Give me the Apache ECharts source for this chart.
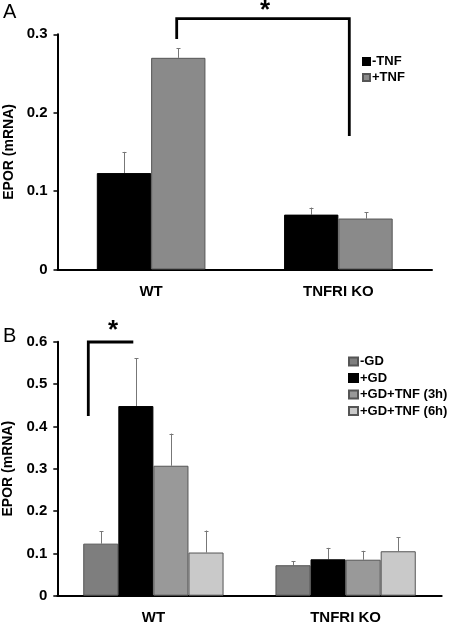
<!DOCTYPE html>
<html><head><meta charset="utf-8">
<script src="https://cdn.jsdelivr.net/npm/echarts@6/dist/echarts.min.js"></script>
<style>html,body{margin:0;padding:0;background:#fff}#c{width:450px;height:625px}</style>
</head><body><div id="c"></div>
<script>
// Panel A data
const catsA = ['WT', 'TNFRI KO'];
const namesA = ['-TNF', '+TNF'];
const minusTNF = [0.123, 0.070];
const minusTNFErr = [0.027, 0.009];
const plusTNF = [0.270, 0.065];
const plusTNFErr = [0.012, 0.008];
const ticksA = [0, 0.1, 0.2, 0.3];

// Panel B data
const catsB = ['WT', 'TNFRI KO'];
const namesB = ['-GD', '+GD', '+GD+TNF (3h)', '+GD+TNF (6h)'];
const minusGD = [0.123, 0.072];
const minusGDErr = [0.029, 0.010];
const plusGD = [0.448, 0.086];
const plusGDErr = [0.113, 0.027];
const gdTnf3h = [0.307, 0.085];
const gdTnf3hErr = [0.076, 0.021];
const gdTnf6h = [0.102, 0.105];
const gdTnf6hErr = [0.052, 0.033];
const ticksB = [0, 0.1, 0.2, 0.3, 0.4, 0.5, 0.6];

const FONT = '"Liberation Sans", Arial, sans-serif';
const colorsA = ['#000000', '#8a8a8a'];
const colorsB = ['#7e7e7e', '#000000', '#999999', '#c9c9c9'];
const gapA = 0.42, gapB = 0.27;

function errSeries(name, xi, yi, vals, errs, idx, n, gap) {
  return {
    type: 'custom', name: name + ' err', xAxisIndex: xi, yAxisIndex: yi, z: 1, silent: true,
    data: vals.map((v, i) => [i, v, v + errs[i]]),
    renderItem: function (params, api) {
      const c = api.coord([api.value(0), api.value(1)]);
      const t = api.coord([api.value(0), api.value(2)]);
      const band = api.size([1, 0])[0];
      const bw = band * (1 - gap) / n;
      const x = Math.round(c[0] - band * (1 - gap) / 2 + (idx + 0.5) * bw) + 0.5;
      const st = { stroke: '#777', lineWidth: 1 };
      return { type: 'group', children: [
        { type: 'line', shape: { x1: x, y1: c[1], x2: x, y2: t[1] }, style: st },
        { type: 'line', shape: { x1: x - 2, y1: Math.round(t[1]) + 0.5, x2: x + 2, y2: Math.round(t[1]) + 0.5 }, style: st }
      ]};
    }
  };
}

function bar(name, xi, yi, vals, color, gap) {
  return {
    type: 'bar', name: name, xAxisIndex: xi, yAxisIndex: yi, data: vals,
    barGap: '0%', barCategoryGap: (gap * 100) + '%', z: 2,
    itemStyle: { color: color, borderColor: color === '#000000' ? '#000' : '#555', borderWidth: 1 }
  };
}

const axisLabel = { color: '#000', fontFamily: FONT, fontWeight: 'bold', fontSize: 15 };
function yAxis(gi, max, ticks) {
  return {
    type: 'value', gridIndex: gi, min: ticks[0], max: max, interval: 0.1,
    name: 'EPOR (mRNA)', nameLocation: 'middle', nameGap: 40,
    nameTextStyle: { color: '#000', fontFamily: FONT, fontWeight: 'bold', fontSize: 14 },
    axisLine: { show: true, lineStyle: { color: '#000', width: 2 } },
    axisTick: { show: true, length: 4, lineStyle: { color: '#000', width: 1.5 } },
    splitLine: { show: false },
    axisLabel: Object.assign({ margin: 10, formatter: v => String(+v.toFixed(1)) }, axisLabel)
  };
}
function xAxis(gi, cats) {
  return {
    type: 'category', gridIndex: gi, data: cats,
    axisLine: { lineStyle: { color: '#000', width: 2 } },
    axisTick: { length: 4, lineStyle: { color: '#000', width: 1.5 } },
    axisLabel: Object.assign({ margin: 15 }, axisLabel)
  };
}

const series = [];
series.push(bar(namesA[0], 0, 0, minusTNF, colorsA[0], gapA));
series.push(bar(namesA[1], 0, 0, plusTNF, colorsA[1], gapA));
series.push(errSeries(namesA[0], 0, 0, minusTNF, minusTNFErr, 0, 2, gapA));
series.push(errSeries(namesA[1], 0, 0, plusTNF, plusTNFErr, 1, 2, gapA));
const bVals = [minusGD, plusGD, gdTnf3h, gdTnf6h];
const bErrs = [minusGDErr, plusGDErr, gdTnf3hErr, gdTnf6hErr];
bVals.forEach((v, i) => series.push(bar(namesB[i], 1, 1, v, colorsB[i], gapB)));
bVals.forEach((v, i) => series.push(errSeries(namesB[i], 1, 1, v, bErrs[i], i, 4, gapB)));

const legendText = { color: '#000', fontFamily: FONT, fontWeight: 'bold', fontSize: 13, padding: [0, 0, 0, -3] };
const chart = echarts.init(document.getElementById('c'), null, { renderer: 'canvas' });
chart.setOption({
  animation: false,
  backgroundColor: '#fff',
  grid: [
    { left: 57.5, right: 18, top: 34.3, bottom: 355.5, containLabel: false, outerBoundsMode: 'none' },
    { left: 57.3, right: 8.3, top: 341.7, bottom: 29.3, containLabel: false, outerBoundsMode: 'none' }
  ],
  xAxis: [xAxis(0, catsA), xAxis(1, catsB)],
  yAxis: [yAxis(0, 0.3, ticksA), yAxis(1, 0.6, ticksB)],
  legend: [
    { data: namesA, orient: 'vertical', left: 357, top: 50, itemWidth: 7, itemHeight: 7, itemGap: 3,
      icon: 'rect', textStyle: legendText },
    { data: namesB, orient: 'vertical', left: 343, top: 350, itemWidth: 9, itemHeight: 8, itemGap: 3.5,
      icon: 'rect', textStyle: legendText }
  ],
  series: series,
  graphic: [
    { type: 'text', left: 3, top: 2, style: { text: 'A', font: '20px ' + FONT, fill: '#000' } },
    { type: 'text', left: 3, top: 326, style: { text: 'B', font: '20px ' + FONT, fill: '#000' } },
    { type: 'polyline', shape: { points: [[176.7, 39], [176.7, 18.7], [349.3, 18.7], [349.3, 136]] },
      style: { stroke: '#000', lineWidth: 2.8, fill: null } },
    { type: 'text', x: 265, y: 11, style: { text: '*', font: 'bold 26px ' + FONT, fill: '#000', align: 'center', verticalAlign: 'middle' } },
    { type: 'polyline', shape: { points: [[88.3, 416], [88.3, 342], [133.3, 342]] },
      style: { stroke: '#000', lineWidth: 2.8, fill: null } },
    { type: 'text', x: 113, y: 331, style: { text: '*', font: 'bold 26px ' + FONT, fill: '#000', align: 'center', verticalAlign: 'middle' } }
  ]
});
</script></body></html>
